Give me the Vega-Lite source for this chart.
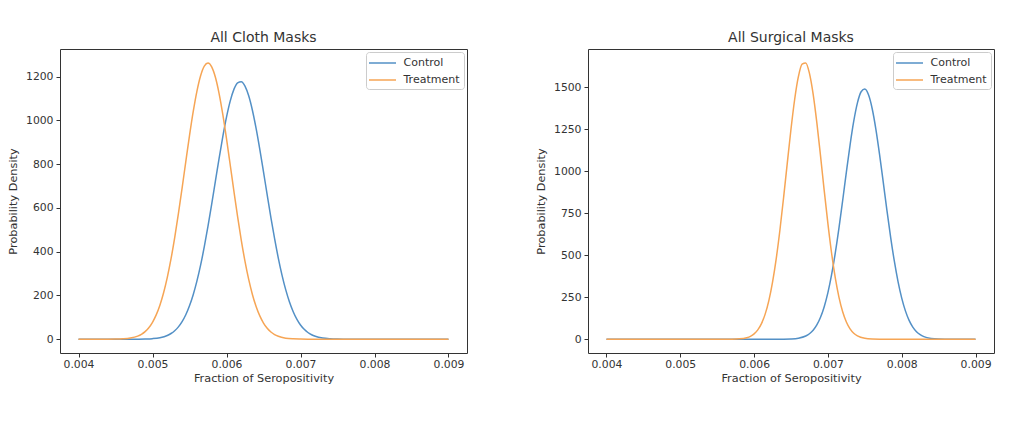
{
  "$schema": "https://vega.github.io/schema/vega-lite/v6.json",
  "padding": {"left": 7, "top": 30, "right": 0, "bottom": 0},
  "autosize": {"type": "pad"},
  "background": "white",
  "config": {
    "font": "DejaVu Sans",
    "view": {"stroke": "#333", "strokeWidth": 1},
    "axis": {"grid": false, "domain": false, "tickColor": "#333", "tickSize": 4, "labelFontSize": 10.8, "labelColor": "#333", "titleFontSize": 11.3, "titleFontWeight": "normal", "titleColor": "#333", "labelPadding": 3},
    "axisX": {"labelPadding": 1, "titlePadding": 4},
    "axisY": {"titlePadding": 7},
    "title": {"fontSize": 14, "fontWeight": "normal", "color": "#333", "offset": 4},
    "legend": {"title": null, "orient": "top-right", "offset": 3, "symbolType": "M-2.25,0H2.25", "symbolSize": 144, "symbolStrokeWidth": 1.5, "symbolOffset": 5.5, "labelOffset": 14, "labelFontSize": 11, "labelColor": "#333", "strokeColor": "#ccc", "fillColor": "white", "cornerRadius": 3, "padding": 4, "rowPadding": 5},
    "concat": {"spacing": 67}
  },
  "datasets": {
    "cloth": [
      {"g": "Control", "x": 0.004, "y": 0}, {"g": "Control", "x": 0.0046, "y": 0}, {"g": "Control", "x": 0.0047, "y": 0.1}, {"g": "Control", "x": 0.0048, "y": 0.3}, {"g": "Control", "x": 0.0049, "y": 0.9}, {"g": "Control", "x": 0.005, "y": 2.6}, {"g": "Control", "x": 0.0051, "y": 7.0}, {"g": "Control", "x": 0.0052, "y": 17.2}, {"g": "Control", "x": 0.00525, "y": 26.1}, {"g": "Control", "x": 0.0053, "y": 38.8}, {"g": "Control", "x": 0.00535, "y": 56.4}, {"g": "Control", "x": 0.0054, "y": 80.3}, {"g": "Control", "x": 0.00545, "y": 111.8}, {"g": "Control", "x": 0.0055, "y": 152.4}, {"g": "Control", "x": 0.00555, "y": 203.3}, {"g": "Control", "x": 0.0056, "y": 265.1}, {"g": "Control", "x": 0.00565, "y": 338.2}, {"g": "Control", "x": 0.0057, "y": 422.7}, {"g": "Control", "x": 0.00575, "y": 516.4}, {"g": "Control", "x": 0.0058, "y": 617.4}, {"g": "Control", "x": 0.00585, "y": 722.2}, {"g": "Control", "x": 0.0059, "y": 826.7}, {"g": "Control", "x": 0.00595, "y": 926.0}, {"g": "Control", "x": 0.006, "y": 1014.7}, {"g": "Control", "x": 0.00605, "y": 1088.0}, {"g": "Control", "x": 0.0061, "y": 1141.5}, {"g": "Control", "x": 0.00615, "y": 1171.7}, {"g": "Control", "x": 0.0062, "y": 1176.8}, {"g": "Control", "x": 0.00625, "y": 1156.6}, {"g": "Control", "x": 0.0063, "y": 1112.1}, {"g": "Control", "x": 0.00635, "y": 1046.2}, {"g": "Control", "x": 0.0064, "y": 963.0}, {"g": "Control", "x": 0.00645, "y": 867.4}, {"g": "Control", "x": 0.0065, "y": 764.4}, {"g": "Control", "x": 0.00655, "y": 659.1}, {"g": "Control", "x": 0.0066, "y": 556.0}, {"g": "Control", "x": 0.00665, "y": 459.1}, {"g": "Control", "x": 0.0067, "y": 370.8}, {"g": "Control", "x": 0.00675, "y": 293.0}, {"g": "Control", "x": 0.0068, "y": 226.5}, {"g": "Control", "x": 0.00685, "y": 171.4}, {"g": "Control", "x": 0.0069, "y": 126.9}, {"g": "Control", "x": 0.00695, "y": 91.9}, {"g": "Control", "x": 0.007, "y": 65.1}, {"g": "Control", "x": 0.00705, "y": 45.2}, {"g": "Control", "x": 0.0071, "y": 30.6}, {"g": "Control", "x": 0.00715, "y": 20.3}, {"g": "Control", "x": 0.0072, "y": 13.2}, {"g": "Control", "x": 0.0073, "y": 5.2}, {"g": "Control", "x": 0.0074, "y": 1.9}, {"g": "Control", "x": 0.0075, "y": 0.6}, {"g": "Control", "x": 0.0076, "y": 0.2}, {"g": "Control", "x": 0.0077, "y": 0}, {"g": "Control", "x": 0.009, "y": 0},
      {"g": "Treatment", "x": 0.004, "y": 0}, {"g": "Treatment", "x": 0.0043, "y": 0}, {"g": "Treatment", "x": 0.0044, "y": 0.1}, {"g": "Treatment", "x": 0.0045, "y": 0.5}, {"g": "Treatment", "x": 0.0046, "y": 1.7}, {"g": "Treatment", "x": 0.0047, "y": 5.2}, {"g": "Treatment", "x": 0.0048, "y": 14.2}, {"g": "Treatment", "x": 0.00485, "y": 22.5}, {"g": "Treatment", "x": 0.0049, "y": 34.8}, {"g": "Treatment", "x": 0.00495, "y": 52.6}, {"g": "Treatment", "x": 0.005, "y": 77.4}, {"g": "Treatment", "x": 0.00505, "y": 111.0}, {"g": "Treatment", "x": 0.0051, "y": 155.4}, {"g": "Treatment", "x": 0.00515, "y": 212.1}, {"g": "Treatment", "x": 0.0052, "y": 282.4}, {"g": "Treatment", "x": 0.00525, "y": 366.6}, {"g": "Treatment", "x": 0.0053, "y": 464.2}, {"g": "Treatment", "x": 0.00535, "y": 573.5}, {"g": "Treatment", "x": 0.0054, "y": 690.8}, {"g": "Treatment", "x": 0.00545, "y": 811.6}, {"g": "Treatment", "x": 0.0055, "y": 930.0}, {"g": "Treatment", "x": 0.00555, "y": 1039.3}, {"g": "Treatment", "x": 0.0056, "y": 1132.6}, {"g": "Treatment", "x": 0.00565, "y": 1203.9}, {"g": "Treatment", "x": 0.0057, "y": 1248.1}, {"g": "Treatment", "x": 0.00575, "y": 1261.9}, {"g": "Treatment", "x": 0.0058, "y": 1244.3}, {"g": "Treatment", "x": 0.00585, "y": 1196.8}, {"g": "Treatment", "x": 0.0059, "y": 1122.5}, {"g": "Treatment", "x": 0.00595, "y": 1026.9}, {"g": "Treatment", "x": 0.006, "y": 916.1}, {"g": "Treatment", "x": 0.00605, "y": 797.2}, {"g": "Treatment", "x": 0.0061, "y": 676.6}, {"g": "Treatment", "x": 0.00615, "y": 560.0}, {"g": "Treatment", "x": 0.0062, "y": 451.9}, {"g": "Treatment", "x": 0.00625, "y": 355.8}, {"g": "Treatment", "x": 0.0063, "y": 273.2}, {"g": "Treatment", "x": 0.00635, "y": 204.6}, {"g": "Treatment", "x": 0.0064, "y": 149.4}, {"g": "Treatment", "x": 0.00645, "y": 106.4}, {"g": "Treatment", "x": 0.0065, "y": 73.9}, {"g": "Treatment", "x": 0.00655, "y": 50.1}, {"g": "Treatment", "x": 0.0066, "y": 33.1}, {"g": "Treatment", "x": 0.00665, "y": 21.3}, {"g": "Treatment", "x": 0.0067, "y": 13.4}, {"g": "Treatment", "x": 0.0068, "y": 4.9}, {"g": "Treatment", "x": 0.0069, "y": 1.6}, {"g": "Treatment", "x": 0.007, "y": 0.5}, {"g": "Treatment", "x": 0.0071, "y": 0.1}, {"g": "Treatment", "x": 0.0072, "y": 0}, {"g": "Treatment", "x": 0.009, "y": 0}
    ],
    "surgical": [
      {"g": "Control", "x": 0.004, "y": 0}, {"g": "Control", "x": 0.0062, "y": 0}, {"g": "Control", "x": 0.0063, "y": 0.1}, {"g": "Control", "x": 0.0064, "y": 0.4}, {"g": "Control", "x": 0.0065, "y": 1.6}, {"g": "Control", "x": 0.0066, "y": 5.9}, {"g": "Control", "x": 0.0067, "y": 19.0}, {"g": "Control", "x": 0.00675, "y": 32.4}, {"g": "Control", "x": 0.0068, "y": 53.4}, {"g": "Control", "x": 0.00685, "y": 84.9}, {"g": "Control", "x": 0.0069, "y": 130.5}, {"g": "Control", "x": 0.00695, "y": 193.7}, {"g": "Control", "x": 0.007, "y": 277.4}, {"g": "Control", "x": 0.00705, "y": 384.0}, {"g": "Control", "x": 0.0071, "y": 513.3}, {"g": "Control", "x": 0.00715, "y": 662.4}, {"g": "Control", "x": 0.0072, "y": 825.6}, {"g": "Control", "x": 0.00725, "y": 993.8}, {"g": "Control", "x": 0.0073, "y": 1155.5}, {"g": "Control", "x": 0.00735, "y": 1297.2}, {"g": "Control", "x": 0.0074, "y": 1406.4}, {"g": "Control", "x": 0.00745, "y": 1472.6}, {"g": "Control", "x": 0.0075, "y": 1489.2}, {"g": "Control", "x": 0.00755, "y": 1454.2}, {"g": "Control", "x": 0.0076, "y": 1371.5}, {"g": "Control", "x": 0.00765, "y": 1249.2}, {"g": "Control", "x": 0.0077, "y": 1098.9}, {"g": "Control", "x": 0.00775, "y": 933.3}, {"g": "Control", "x": 0.0078, "y": 765.7}, {"g": "Control", "x": 0.00785, "y": 606.6}, {"g": "Control", "x": 0.0079, "y": 464.1}, {"g": "Control", "x": 0.00795, "y": 343.0}, {"g": "Control", "x": 0.008, "y": 244.8}, {"g": "Control", "x": 0.00805, "y": 168.7}, {"g": "Control", "x": 0.0081, "y": 112.2}, {"g": "Control", "x": 0.00815, "y": 72.2}, {"g": "Control", "x": 0.0082, "y": 44.8}, {"g": "Control", "x": 0.00825, "y": 26.8}, {"g": "Control", "x": 0.0083, "y": 15.5}, {"g": "Control", "x": 0.0084, "y": 4.7}, {"g": "Control", "x": 0.0085, "y": 1.2}, {"g": "Control", "x": 0.0086, "y": 0.3}, {"g": "Control", "x": 0.0087, "y": 0}, {"g": "Control", "x": 0.009, "y": 0},
      {"g": "Treatment", "x": 0.004, "y": 0}, {"g": "Treatment", "x": 0.0055, "y": 0}, {"g": "Treatment", "x": 0.0056, "y": 0.1}, {"g": "Treatment", "x": 0.0057, "y": 0.5}, {"g": "Treatment", "x": 0.0058, "y": 2.2}, {"g": "Treatment", "x": 0.0059, "y": 9.1}, {"g": "Treatment", "x": 0.00595, "y": 17.3}, {"g": "Treatment", "x": 0.006, "y": 31.6}, {"g": "Treatment", "x": 0.00605, "y": 55.4}, {"g": "Treatment", "x": 0.0061, "y": 92.9}, {"g": "Treatment", "x": 0.00615, "y": 149.3}, {"g": "Treatment", "x": 0.0062, "y": 230.0}, {"g": "Treatment", "x": 0.00625, "y": 339.6}, {"g": "Treatment", "x": 0.0063, "y": 480.0}, {"g": "Treatment", "x": 0.00635, "y": 650.1}, {"g": "Treatment", "x": 0.0064, "y": 844.0}, {"g": "Treatment", "x": 0.00645, "y": 1049.6}, {"g": "Treatment", "x": 0.0065, "y": 1250.7}, {"g": "Treatment", "x": 0.00655, "y": 1428.1}, {"g": "Treatment", "x": 0.0066, "y": 1562.1}, {"g": "Treatment", "x": 0.00665, "y": 1637.3}, {"g": "Treatment", "x": 0.0067, "y": 1644.4}, {"g": "Treatment", "x": 0.00675, "y": 1582.3}, {"g": "Treatment", "x": 0.0068, "y": 1458.8}, {"g": "Treatment", "x": 0.00685, "y": 1288.7}, {"g": "Treatment", "x": 0.0069, "y": 1090.8}, {"g": "Treatment", "x": 0.00695, "y": 884.6}, {"g": "Treatment", "x": 0.007, "y": 687.4}, {"g": "Treatment", "x": 0.00705, "y": 511.7}, {"g": "Treatment", "x": 0.0071, "y": 365.0}, {"g": "Treatment", "x": 0.00715, "y": 249.5}, {"g": "Treatment", "x": 0.0072, "y": 163.4}, {"g": "Treatment", "x": 0.00725, "y": 102.6}, {"g": "Treatment", "x": 0.0073, "y": 61.6}, {"g": "Treatment", "x": 0.00735, "y": 35.5}, {"g": "Treatment", "x": 0.0074, "y": 19.6}, {"g": "Treatment", "x": 0.0075, "y": 5.2}, {"g": "Treatment", "x": 0.0076, "y": 1.2}, {"g": "Treatment", "x": 0.0077, "y": 0.2}, {"g": "Treatment", "x": 0.0078, "y": 0}, {"g": "Treatment", "x": 0.009, "y": 0}
    ]
  },
  "hconcat": [
    {
      "title": "All Cloth Masks",
      "width": 407,
      "height": 304,
      "data": {"name": "cloth"},
      "mark": {"type": "line", "strokeWidth": 1.5, "interpolate": "monotone"},
      "encoding": {
        "x": {"field": "x", "type": "quantitative", "scale": {"domain": [0.00375, 0.00925], "nice": false, "zero": false}, "axis": {"values": [0.004, 0.005, 0.006, 0.007, 0.008, 0.009], "format": ".3f", "title": "Fraction of Seropositivity"}},
        "y": {"field": "y", "type": "quantitative", "scale": {"domain": [-63, 1326], "nice": false, "zero": false}, "axis": {"values": [0, 200, 400, 600, 800, 1000, 1200], "format": "d", "title": "Probability Density"}},
        "color": {"field": "g", "type": "nominal", "scale": {"domain": ["Control", "Treatment"], "range": ["#5390c6", "#f6a555"]}}
      }
    },
    {
      "title": "All Surgical Masks",
      "width": 406,
      "height": 304,
      "data": {"name": "surgical"},
      "mark": {"type": "line", "strokeWidth": 1.5, "interpolate": "monotone"},
      "encoding": {
        "x": {"field": "x", "type": "quantitative", "scale": {"domain": [0.00375, 0.00925], "nice": false, "zero": false}, "axis": {"values": [0.004, 0.005, 0.006, 0.007, 0.008, 0.009], "format": ".3f", "title": "Fraction of Seropositivity"}},
        "y": {"field": "y", "type": "quantitative", "scale": {"domain": [-82, 1727], "nice": false, "zero": false}, "axis": {"values": [0, 250, 500, 750, 1000, 1250, 1500], "format": "d", "title": "Probability Density"}},
        "color": {"field": "g", "type": "nominal", "scale": {"domain": ["Control", "Treatment"], "range": ["#5390c6", "#f6a555"]}}
      }
    }
  ],
  "resolve": {"scale": {"color": "independent", "x": "independent", "y": "independent"}, "legend": {"color": "independent"}}
}
